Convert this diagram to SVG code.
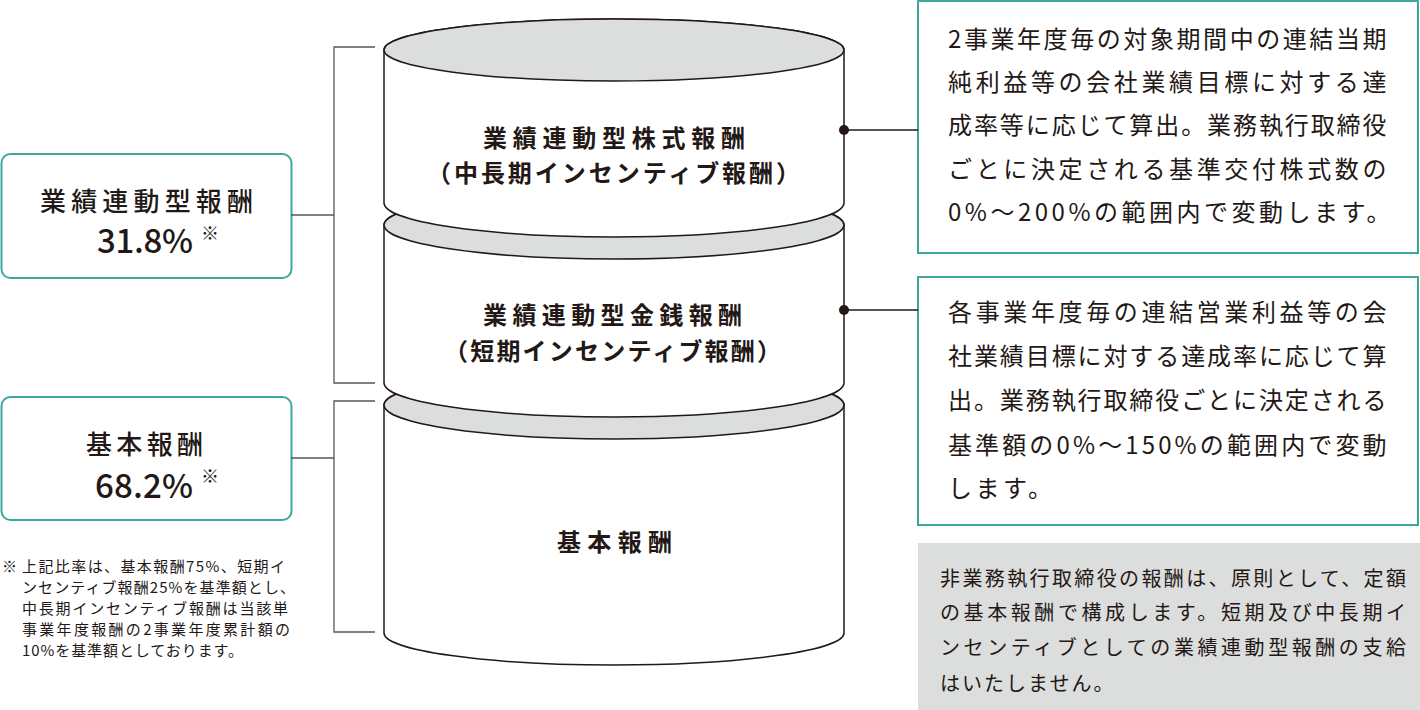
<svg xmlns="http://www.w3.org/2000/svg" width="1420" height="710" viewBox="0 0 1420 710">
<style>
.jp{font-family:"Noto Sans CJK JP","Noto Sans",sans-serif;fill:#231815}
.cyl-body{fill:#fff;stroke:#231815;stroke-width:1.5}
.cyl-top{fill:#dcdddd;stroke:#231815;stroke-width:1.5}
.cyl-t{font-size:24px;font-weight:700}
.lbox{fill:#fff;stroke:#3aa89a;stroke-width:2}
.rbox{fill:#fff;stroke:#3aa89a;stroke-width:2}
.gbox{fill:#dcdddd}
.ltitle{font-size:26px;font-weight:500}
.lpct{font-size:33px;font-weight:500}
.mark{font-size:18px;font-weight:400}
.note{font-size:15px}
.rt{font-size:24px;letter-spacing:3.5px}
.gt{font-size:20px;letter-spacing:2px}
.ln{fill:none;stroke:#595757;stroke-width:1.3}
.dl{fill:none;stroke:#231815;stroke-width:1.3}
.dot{fill:#231815}
</style>

<g id="cyl-base">
  <path class="cyl-body" d="M384,405 L384,633 A230,32 0 0 0 844,633 L844,405 A230,34 0 0 0 384,405 Z"/>
  <ellipse class="cyl-top" cx="614" cy="405" rx="230" ry="34"/>
  <text class="jp cyl-t" x="557" y="551" textLength="115">基本報酬</text>
</g>

<g id="cyl-short">
  <path class="cyl-body" d="M384,225 L384,383 A230,34 0 0 0 844,383 L844,225 A230,34 0 0 0 384,225 Z"/>
  <ellipse class="cyl-top" cx="614" cy="225" rx="230" ry="34"/>
  <text class="jp cyl-t" x="483" y="324" textLength="259">業績連動型金銭報酬</text>
  <text class="jp cyl-t" x="444" y="360" textLength="337">（短期インセンティブ報酬）</text>
</g>

<g id="cyl-long">
  <path class="cyl-body" d="M384,50 L384,203 A230,34 0 0 0 844,203 L844,50 A230,31 0 0 0 384,50 Z"/>
  <ellipse class="cyl-top" cx="614" cy="50" rx="230" ry="31"/>
  <text class="jp cyl-t" x="483" y="147" textLength="262">業績連動型株式報酬</text>
  <text class="jp cyl-t" x="427" y="182" textLength="373">（中長期インセンティブ報酬）</text>
</g>

<g id="box-performance">
  <rect class="lbox" x="1.5" y="154" width="290" height="124" rx="9"/>
  <text class="jp ltitle" x="40" y="211" textLength="213">業績連動型報酬</text>
  <text class="jp lpct" x="97" y="253" textLength="96">31.8%</text>
  <text class="jp mark" x="201" y="240">※</text>
</g>

<g id="box-base">
  <rect class="lbox" x="1.5" y="397" width="290" height="123" rx="9"/>
  <text class="jp ltitle" x="86" y="454" textLength="117">基本報酬</text>
  <text class="jp lpct" x="95" y="498" textLength="98">68.2%</text>
  <text class="jp mark" x="201" y="483">※</text>
</g>

<g id="note">
  <text class="jp note" x="2" y="572">※</text>
  <text class="jp note" x="22" y="572" textLength="263">上記比率は、基本報酬75%、短期イ</text>
  <text class="jp note" x="22" y="593" textLength="273">ンセンティブ報酬25%を基準額とし、</text>
  <text class="jp note" x="22" y="614" textLength="266">中長期インセンティブ報酬は当該単</text>
  <text class="jp note" x="22" y="635" textLength="268">事業年度報酬の2事業年度累計額の</text>
  <text class="jp note" x="22" y="656" textLength="221">10%を基準額としております。</text>
</g>

<g id="desc-long">
  <rect class="rbox" x="918" y="1" width="500" height="252"/>
  <text class="jp rt" x="948" y="48" textLength="442">2事業年度毎の対象期間中の連結当期</text>
  <text class="jp rt" x="948" y="91" textLength="442">純利益等の会社業績目標に対する達</text>
  <text class="jp rt" x="948" y="134" textLength="442">成率等に応じて算出。業務執行取締役</text>
  <text class="jp rt" x="948" y="178" textLength="442">ごとに決定される基準交付株式数の</text>
  <text class="jp rt" x="948" y="221">0%〜200%の範囲内で変動します。</text>
</g>

<g id="desc-short">
  <rect class="rbox" x="918" y="277" width="500" height="248"/>
  <text class="jp rt" x="948" y="321" textLength="442">各事業年度毎の連結営業利益等の会</text>
  <text class="jp rt" x="948" y="365" textLength="442">社業績目標に対する達成率に応じて算</text>
  <text class="jp rt" x="948" y="409" textLength="442">出。業務執行取締役ごとに決定される</text>
  <text class="jp rt" x="948" y="454" textLength="442">基準額の0%〜150%の範囲内で変動</text>
  <text class="jp rt" x="948" y="497">します。</text>
</g>

<g id="desc-nonexec">
  <rect class="gbox" x="918" y="543" width="502" height="167"/>
  <text class="jp gt" x="940" y="586" textLength="468">非業務執行取締役の報酬は、原則として、定額</text>
  <text class="jp gt" x="940" y="620" textLength="468">の基本報酬で構成します。短期及び中長期イ</text>
  <text class="jp gt" x="940" y="655" textLength="468">ンセンティブとしての業績連動型報酬の支給</text>
  <text class="jp gt" x="940" y="691">はいたしません。</text>
</g>

<g id="connectors">
  <polyline class="ln" points="375,47 334,47 334,383 375,383"/>
  <line class="ln" x1="291" y1="215" x2="334" y2="215"/>
  <polyline class="ln" points="375,401 334,401 334,632 375,632"/>
  <line class="ln" x1="291" y1="458" x2="334" y2="458"/>
  <line class="dl" x1="844" y1="130" x2="918" y2="130"/>
  <circle class="dot" cx="844" cy="130" r="5"/>
  <line class="dl" x1="844" y1="310" x2="918" y2="310"/>
  <circle class="dot" cx="844" cy="310" r="5"/>
</g>
</svg>
